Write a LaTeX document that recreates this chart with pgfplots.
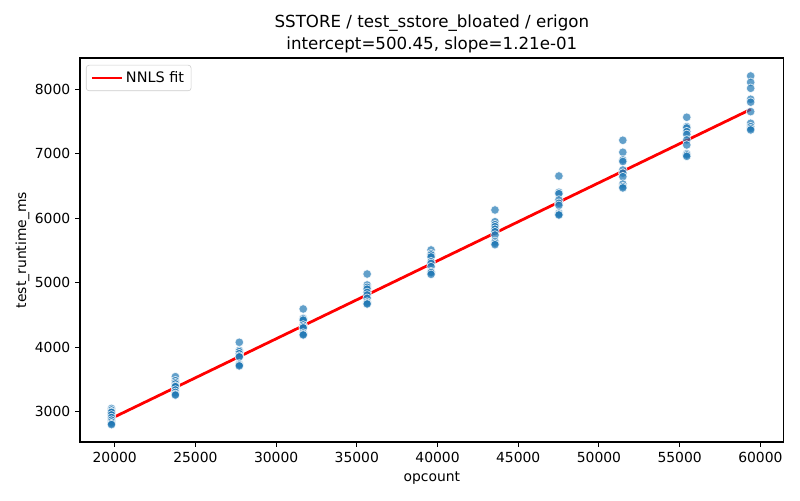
\documentclass[border=0pt]{standalone}
\usepackage{pgfplots}
\pgfplotsset{compat=1.18}
\usepackage{pgfplotstable}
\usepackage{fontspec}
\setmainfont{DejaVu Sans}
\definecolor{c0}{HTML}{1F77B4}
\pgfplotstableread{
x y
19800 3050
19800 3025
19800 3000
19800 2990
19800 2950
19800 2910
19800 2870
19800 2840
19800 2815
19800 2800
23760 3543
23760 3481
23760 3450
23760 3430
23760 3400
23760 3388
23760 3337
23760 3300
23760 3270
23760 3258
27720 4076
27720 3950
27720 3931
27720 3900
27720 3864
27720 3850
27720 3740
27720 3724
27720 3710
31680 4593
31680 4449
31680 4440
31680 4420
31680 4345
31680 4318
31680 4300
31680 4220
31680 4200
31680 4190
35640 5135
35640 4965
35640 4929
35640 4900
35640 4850
35640 4810
35640 4759
35640 4700
35640 4681
35640 4670
39600 5508
39600 5450
39600 5430
39600 5400
39600 5326
39600 5300
39600 5250
39600 5170
39600 5156
39600 5130
43560 6128
43560 5946
43560 5900
43560 5869
43560 5830
43560 5791
43560 5740
43560 5640
43560 5612
43560 5590
47520 6655
47520 6402
47520 6380
47520 6283
47520 6232
47520 6200
47520 6080
47520 6061
47520 6050
51480 7209
51480 7023
51480 6904
51480 6880
51480 6748
51480 6700
51480 6645
51480 6530
51480 6490
51480 6470
55440 7566
55440 7420
55440 7400
55440 7343
55440 7300
55440 7214
55440 7136
55440 7000
55440 6981
55440 6960
59400 8206
59400 8108
59400 8015
59400 7845
59400 7800
59400 7653
59400 7473
59400 7420
59400 7390
59400 7369
}\pts
\begin{document}
\begin{tikzpicture}[x=1pt,y=1pt]
\path[use as bounding box] (-57.6,-41.76) rectangle ++(576,360);
\begin{axis}[
  at={(0,0)}, anchor=south west, scale only axis,
  width=506.7pt, height=276.5pt,
  xmin=17850, xmax=61450, ymin=2530, ymax=8485,
  xtick={20000,25000,...,60000}, ytick={3000,4000,...,8000},
  scaled ticks=false,
  /pgf/number format/assume math mode=true,
  /pgf/number format/1000 sep={},
  tick align=outside, tick pos=left,
  major tick length=3.5pt,
  every tick/.style={black, line width=0.8pt},
  axis line style={line width=0.8pt},
  ticklabel style={font=\fontsize{10}{12}\selectfont},
  xlabel={opcount}, ylabel={test\_runtime\_ms},
  label style={font=\fontsize{10}{12}\selectfont},
  ylabel style={yshift=-3pt},
  title={SSTORE / test\_sstore\_bloated / erigon\\intercept=500.45, slope=1.21e-01},
  title style={font=\fontsize{12}{15.8}\selectfont, align=center, at={(0.5,1)}, anchor=south, inner sep=0pt, yshift=-2.6pt},
  legend style={at={(0,1)}, anchor=north west, xshift=4.3pt, yshift=-5pt,
    draw=black!20, rounded corners=2pt, font=\fontsize{10.4}{12}\selectfont,
    inner xsep=3pt, inner ysep=2.5pt},
  legend cell align=left,
  legend image code/.code={\draw[#1] (0pt,0pt) -- (21.6pt,0pt);},
  legend style={/tikz/every even column/.append style={column sep=2pt}},
]
\addplot[only marks, mark=*, mark size=3.1pt,
  mark options={fill=c0, fill opacity=0.7, draw=white, draw opacity=0.8, line width=0.5pt},
  forget plot] table[x=x,y=y] {\pts};
\addplot[red, line width=2pt] coordinates {(19800,2896.3) (59400,7687.9)};
\addlegendentry{NNLS fit}
\end{axis}
\end{tikzpicture}
\end{document}
